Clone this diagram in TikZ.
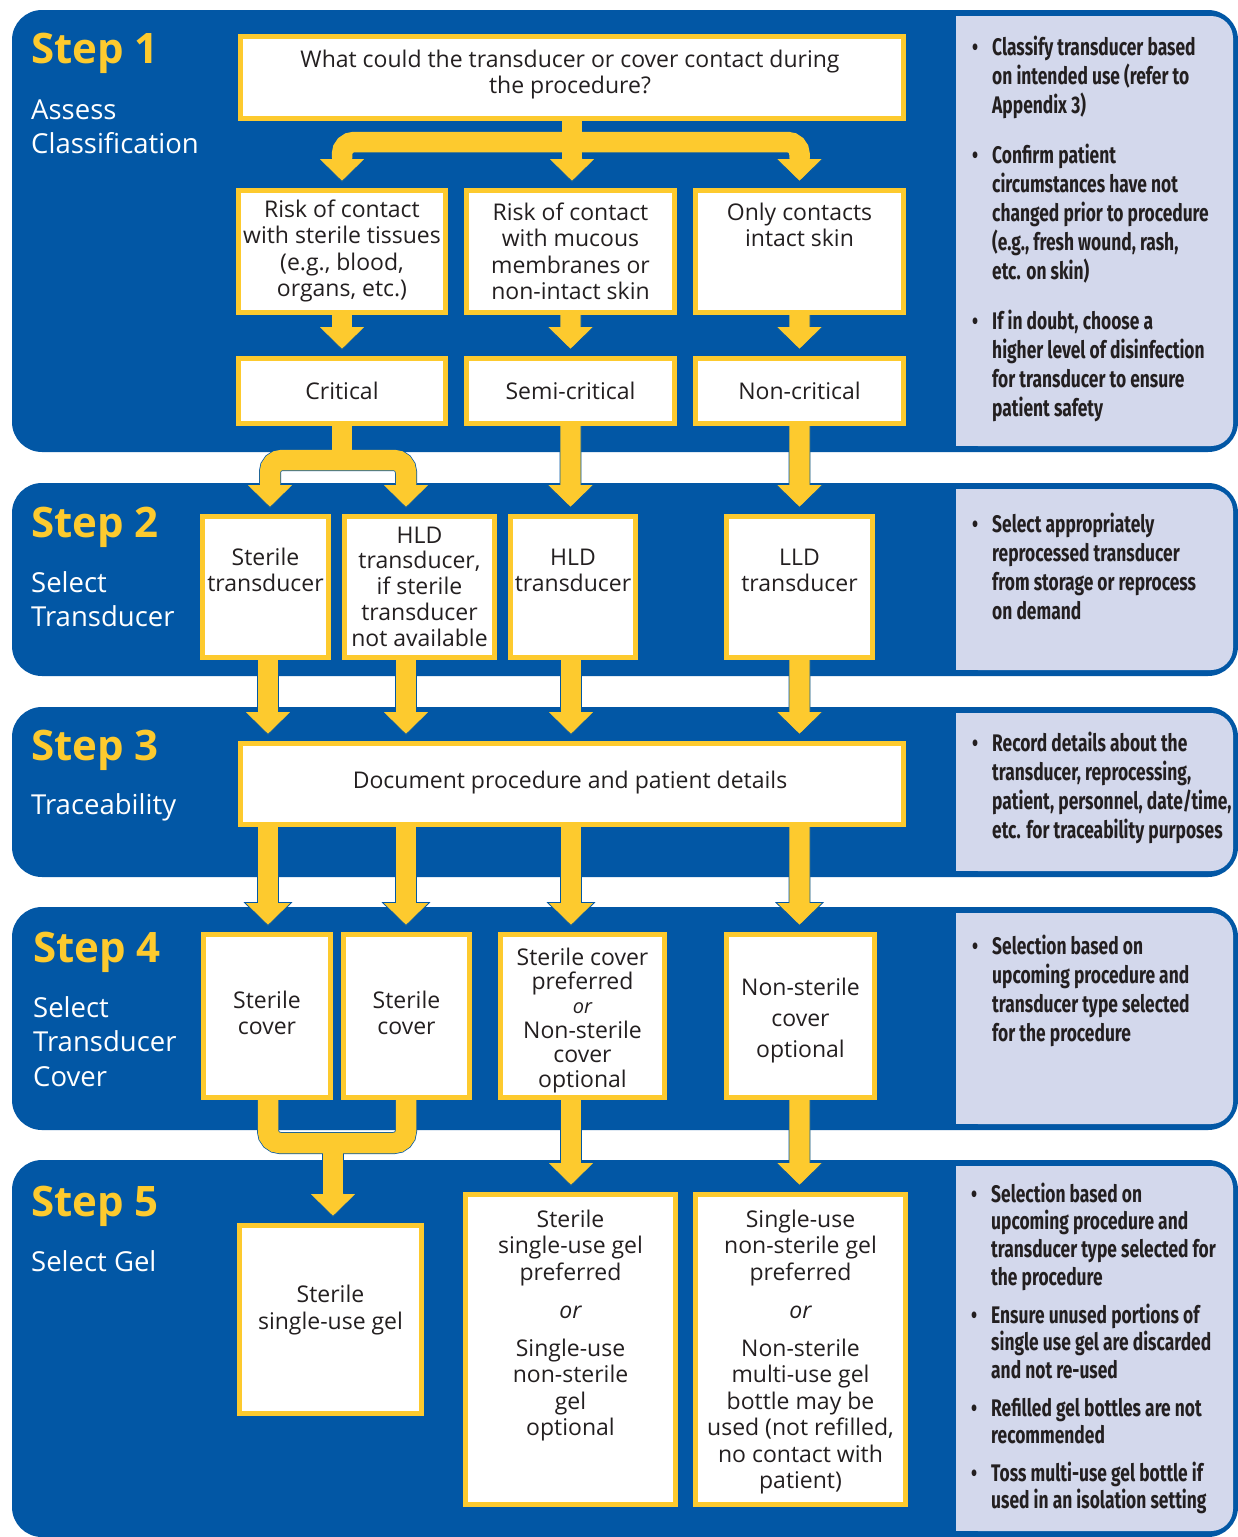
\documentclass[tikz,border=0pt]{standalone}
\usepackage{fontspec}
\setmainfont{Open Sans}
\newfontfamily\sidefont{Fira Sans}[FakeStretch=0.725]
\usetikzlibrary{calc}
\definecolor{bandblue}{RGB}{2,87,165}
\definecolor{ayellow}{RGB}{253,202,46}
\definecolor{panelc}{RGB}{211,216,236}
\definecolor{ink}{RGB}{35,31,32}
\pgfdeclarelayer{bands}
\pgfdeclarelayer{arrows}
\pgfsetlayers{bands,arrows,main}
\newcommand\ctext[1]{\begin{tabular}[t]{@{}c@{}}#1\end{tabular}}
\newcommand\ltext[1]{\begin{tabular}[t]{@{}l@{}}#1\end{tabular}}
\tikzset{
  boxnode/.style={draw=ayellow, line width=5pt, fill=white, inner sep=0pt, outer sep=0pt, rectangle},
  boxtext/.style={font=\fontsize{23}{26.5}\selectfont, text=ink, inner sep=0pt, anchor=base},
  stephead/.style={font=\bfseries\fontsize{42}{50}\selectfont, text=ayellow, inner sep=0pt, anchor=base west},
  stepsub/.style={font=\fontsize{27.5}{34.5}\selectfont, text=white, inner sep=0pt, anchor=base west},
  sidetext/.style={font=\sidefont\bfseries\fontsize{24}{29}\selectfont, text=ink, inner sep=0pt, anchor=base west},
  bulletmark/.style={font=\sidefont\bfseries\fontsize{24}{29}\selectfont, text=ink, inner sep=0pt, anchor=base},
  arrowfill/.style={fill=ayellow, draw=bandblue, line width=0.8pt, line join=miter},
  shaftout/.style={draw=bandblue, line width=22pt, rounded corners=12pt},
  shaftin/.style={draw=ayellow, line width=20.5pt, rounded corners=12pt},
}
\newcommand\bx[5]{\node[boxnode, minimum width={#4-#2-5}, minimum height={#5-#3-5}] (#1) at ({(#2+#4)/2},{(#3+#5)/2}) {};}
\newcommand\varrow[2]{%
\begin{pgfonlayer}{arrows}
\path[arrowfill] let \p1=(#1), \p2=(#2) in
 ({\x1-10.5pt},{\y1}) -- ({\x1-10.5pt},{\y2+23pt}) -- ({\x1-23.5pt},{\y2+23pt}) -- ({\x1},{\y2}) -- ({\x1+23.5pt},{\y2+23pt}) -- ({\x1+10.5pt},{\y2+23pt}) -- ({\x1+10.5pt},{\y1}) -- cycle;
\end{pgfonlayer}}
\newcommand\ahead[1]{%
\fill[ayellow] let \p1=(#1) in ({\x1-23.5pt},{\y1+23pt}) -- ({\x1},{\y1}) -- ({\x1+23.5pt},{\y1+23pt}) -- cycle;
\draw[bandblue, line width=0.8pt] let \p1=(#1) in ({\x1-10.25pt},{\y1+23pt}) -- ({\x1-23.5pt},{\y1+23pt}) -- ({\x1},{\y1}) -- ({\x1+23.5pt},{\y1+23pt}) -- ({\x1+10.25pt},{\y1+23pt});}
\begin{document}
\begin{tikzpicture}[x=1pt,y=-1pt]
\useasboundingbox (0,0) rectangle (1238,1537);
\begin{pgfonlayer}{bands}
\fill[white] (0,0) rectangle (1238,1537);
\foreach \ya/\yb in {10/452, 483/676, 707/877, 907/1130, 1160/1537} {
  \fill[bandblue, rounded corners=30pt] (12,\ya) rectangle (1238,\yb);
  \fill[panelc, rounded corners=22pt] (956,\ya+6) rectangle (1233,\yb-6);
  \fill[panelc] (956,\ya+6) rectangle (1010,\yb-6);
}
\end{pgfonlayer}

% boxes
\bx{q}{238}{34}{906}{121}
\bx{A}{236}{188}{448}{315}
\bx{B}{464}{188}{677}{315}
\bx{C}{693}{188}{906}{315}
\bx{crit}{236}{356}{448}{426}
\bx{semi}{464}{356}{677}{426}
\bx{non}{693}{356}{906}{426}
\bx{s2a}{200}{514}{331}{660}
\bx{s2b}{342}{514}{497}{660}
\bx{s2c}{508}{514}{638}{660}
\bx{s2d}{724}{514}{875}{660}
\bx{doc}{238}{741}{906}{827}
\bx{s4a}{201}{932}{333}{1100}
\bx{s4b}{341}{932}{472}{1100}
\bx{s4c}{498}{932}{667}{1100}
\bx{s4d}{724}{932}{877}{1100}
\bx{s5a}{237}{1223}{424}{1416}
\bx{s5b}{463}{1192}{678}{1507}
\bx{s5c}{693}{1192}{908}{1507}

\coordinate (xL) at (268,0);
\coordinate (xLa) at (270,0);
\coordinate (xM) at (406,0);
\coordinate (xC) at (571,0);
\coordinate (xR) at (799.5,0);
\coordinate (xU) at (333,0);
\coordinate (bar1) at (0,142);
\coordinate (bar2) at (0,460);
\coordinate (bar3) at (0,1143);

% straight arrows
\varrow{A.south}{$(crit.north)+(0,-9)$}
\varrow{B.south}{$(semi.north)+(0,-9)$}
\varrow{C.south}{$(non.north)+(0,-9)$}
\varrow{semi.south}{$(semi.south |- s2c.north)+(0,-9)$}
\varrow{non.south}{$(non.south |- s2d.north)+(0,-9)$}
\varrow{xL |- s2a.south}{$(xL |- doc.north)+(0,-9)$}
\varrow{xM |- s2b.south}{$(xM |- doc.north)+(0,-9)$}
\varrow{xC |- s2c.south}{$(xC |- doc.north)+(0,-9)$}
\varrow{xR |- s2d.south}{$(xR |- doc.north)+(0,-9)$}
\varrow{xL |- doc.south}{$(xL |- s4a.north)+(0,-9)$}
\varrow{xM |- doc.south}{$(xM |- s4b.north)+(0,-9)$}
\varrow{xC |- doc.south}{$(xC |- s4c.north)+(0,-9)$}
\varrow{xR |- doc.south}{$(xR |- s4d.north)+(0,-9)$}
\varrow{xC |- s4c.south}{$(xC |- s5b.north)+(0,-9)$}
\varrow{xR |- s4d.south}{$(xR |- s5c.north)+(0,-9)$}

% branching arrows
\begin{pgfonlayer}{arrows}
\coordinate (tA) at ($(A.north)+(0,-9)$);
\coordinate (tB) at ($(q.south |- B.north)+(0,-9)$);
\coordinate (tC) at ($(C.north)+(0,-9)$);
\coordinate (eA) at ($(tA)+(0,-21)$);
\coordinate (eB) at ($(tB)+(0,-21)$);
\coordinate (eC) at ($(tC)+(0,-21)$);
\coordinate (t2a) at ($(xLa |- s2a.north)+(0,-9)$);
\coordinate (t2b) at ($(xM |- s2b.north)+(0,-9)$);
\coordinate (e2a) at ($(t2a)+(0,-21)$);
\coordinate (e2b) at ($(t2b)+(0,-21)$);
\coordinate (t5a) at ($(xU |- s5a.north)+(0,-9)$);
\coordinate (e5a) at ($(t5a)+(0,-21)$);
\draw[shaftout] (eA) -- (eA |- bar1) -- (eC |- bar1) -- (eC);
\draw[shaftout] (q.south) -- (eB);
\draw[shaftout] (e2a) -- (e2a |- bar2) -- (e2b |- bar2) -- (e2b);
\draw[shaftout] (crit.south) -- (crit.south |- bar2);
\draw[shaftout] (xL |- s4a.south) -- (xL |- bar3) -- (xM |- bar3) -- (xM |- s4b.south);
\draw[shaftout] (xU |- bar3) -- (e5a);
\draw[shaftin] (eA) -- (eA |- bar1) -- (eC |- bar1) -- (eC);
\draw[shaftin] (q.south) -- (eB);
\draw[shaftin] (e2a) -- (e2a |- bar2) -- (e2b |- bar2) -- (e2b);
\draw[shaftin] (crit.south) -- (crit.south |- bar2);
\draw[shaftin] (xL |- s4a.south) -- (xL |- bar3) -- (xM |- bar3) -- (xM |- s4b.south);
\draw[shaftin] (xU |- bar3) -- (e5a);
\ahead{tA}\ahead{tB}\ahead{tC}
\ahead{t2a}\ahead{t2b}
\ahead{t5a}
\end{pgfonlayer}

% step labels
\node[stephead] (h1) at (31,63) {Step 1};
\node[stepsub] (g1) at (31,119) {\ltext{Assess\\Classification}};
\node[stephead] (h2) at (31,537) {Step 2};
\node[stepsub] (g2) at (31,592) {\ltext{Select\\Transducer}};
\node[stephead] (h3) at (31,760) {Step 3};
\node[stepsub] (g3) at (31,814) {Traceability};
\node[stephead] (h4) at (33,962) {Step 4};
\node[stepsub] (g4) at (33,1017) {\ltext{Select\\Transducer\\Cover}};
\node[stephead] (h5) at (31,1216) {Step 5};
\node[stepsub] (g5) at (31,1271) {Select Gel};

% box texts
\node[boxtext] (qt) at (570,67) {\ctext{What could the transducer or cover contact during\\the procedure?}};
\node[boxtext] (At) at (342,217) {\ctext{Risk of contact\\with sterile tissues\\(e.g., blood,\\organs, etc.)}};
\node[boxtext] (Bt) at (570.5,220) {\ctext{Risk of contact\\with mucous\\membranes or\\non-intact skin}};
\node[boxtext] (Ct) at (799.5,220) {\ctext{Only contacts\\intact skin}};
\node[boxtext] (critt) at (342,399) {Critical};
\node[boxtext] (semit) at (570.5,399) {Semi-critical};
\node[boxtext] (nont) at (799.5,399) {Non-critical};
\node[boxtext] (s2at) at (265.5,565) {\ctext{Sterile\\transducer}};
\node[boxtext, font=\fontsize{23}{25.75}\selectfont] (s2bt) at (419.5,543) {\ctext{HLD\\transducer,\\if sterile\\transducer\\not available}};
\node[boxtext] (s2ct) at (573,565) {\ctext{HLD\\transducer}};
\node[boxtext] (s2dt) at (799.5,565) {\ctext{LLD\\transducer}};
\node[boxtext] (doct) at (570,788) {Document procedure and patient details};
\node[boxtext] (s4at) at (267,1008) {\ctext{Sterile\\cover}};
\node[boxtext] (s4bt) at (406.5,1008) {\ctext{Sterile\\cover}};
\node[boxtext, font=\fontsize{23}{24}\selectfont] (s4ct) at (582.5,965) {\ctext{Sterile cover\\preferred\\{\itshape\fontsize{20}{24}\selectfont or}\\Non-sterile\\cover\\optional}};
\node[boxtext, font=\fontsize{23}{31}\selectfont] (s4dt) at (800.5,995) {\ctext{Non-sterile\\cover\\optional}};
\node[boxtext, font=\fontsize{23}{27}\selectfont] (s5at) at (330.5,1302) {\ctext{Sterile\\single-use gel}};
\node[boxtext] (s5bt) at (570.5,1227) {\ctext{Sterile\\single-use gel\\preferred\\[12pt]{\itshape or}\\[11pt]Single-use\\non-sterile\\gel\\optional}};
\node[boxtext] (s5ct) at (800.5,1227) {\ctext{Single-use\\non-sterile gel\\preferred\\[12pt]{\itshape or}\\[11pt]Non-sterile\\multi-use gel\\bottle may be\\used (not refilled,\\no contact with\\patient)}};

% side panels
\node[bulletmark] (b11) at (975,55) {•};
\node[sidetext] (p11) at (992,55) {\ltext{Classify transducer based\\on intended use (refer to\\Appendix 3)}};
\node[bulletmark] (b12) at (975,163) {•};
\node[sidetext] (p12) at (992,163) {\ltext{Confirm patient\\circumstances have not\\changed prior to procedure\\(e.g., fresh wound, rash,\\etc. on skin)}};
\node[bulletmark] (b13) at (975,329) {•};
\node[sidetext] (p13) at (992,329) {\ltext{If in doubt, choose a\\higher level of disinfection\\for transducer to ensure\\patient safety}};
\node[bulletmark] (b21) at (975,532) {•};
\node[sidetext] (p21) at (992,532) {\ltext{Select appropriately\\reprocessed transducer\\from storage or reprocess\\on demand}};
\node[bulletmark] (b31) at (975,751) {•};
\node[sidetext] (p31) at (992,751) {\ltext{Record details about the\\transducer, reprocessing,\\patient, personnel, date/time,\\etc. for traceability purposes}};
\node[bulletmark] (b41) at (975,954) {•};
\node[sidetext] (p41) at (992,954) {\ltext{Selection based on\\upcoming procedure and\\transducer type selected\\for the procedure}};
\node[bulletmark] (b51) at (974,1202) {•};
\node[sidetext, font=\sidefont\bfseries\fontsize{24}{27.7}\selectfont] (p51) at (991,1202) {\ltext{Selection based on\\upcoming procedure and\\transducer type selected for\\the procedure}};
\node[bulletmark] (b52) at (974,1323) {•};
\node[sidetext, font=\sidefont\bfseries\fontsize{24}{27.7}\selectfont] (p52) at (991,1323) {\ltext{Ensure unused portions of\\single use gel are discarded\\and not re-used}};
\node[bulletmark] (b53) at (974,1416) {•};
\node[sidetext, font=\sidefont\bfseries\fontsize{24}{27.7}\selectfont] (p53) at (991,1416) {\ltext{Refilled gel bottles are not\\recommended}};
\node[bulletmark] (b54) at (974,1481) {•};
\node[sidetext, font=\sidefont\bfseries\fontsize{24}{27.7}\selectfont] (p54) at (991,1481) {\ltext{Toss multi-use gel bottle if\\used in an isolation setting}};
\end{tikzpicture}
\end{document}
